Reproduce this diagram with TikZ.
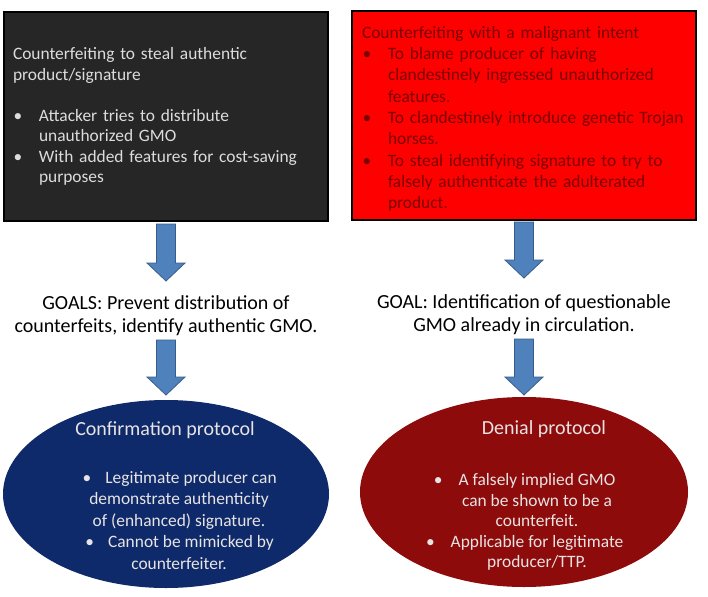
\documentclass[tikz,border=0pt]{standalone}
\usepackage{fontspec}
\setmainfont{Carlito}
\usetikzlibrary{shapes.geometric}
\definecolor{boxgray}{HTML}{262626}
\definecolor{boxtext}{HTML}{DCDCDC}
\definecolor{redfill}{HTML}{FF0000}
\definecolor{redtext}{HTML}{7A0000}
\definecolor{arrowfill}{HTML}{4F81BD}
\definecolor{arrowline}{HTML}{385D8A}
\definecolor{navy}{HTML}{0E2A6A}
\definecolor{darkred}{HTML}{8E0B0B}
\definecolor{elltext}{HTML}{E8E4E4}
\newcommand{\bulA}{\makebox[26pt][l]{\hspace{0.5pt}•}}
\newcommand{\indA}{\hspace*{26pt}}
\newcommand{\bulL}{\hspace*{24pt}\llap{•\hspace{14pt}}}
\newcommand{\bulR}{\llap{•\hspace{16pt}}}
\begin{document}
\begin{tikzpicture}[x=1pt,y=-1pt,
  topbox/.style={draw=black, line width=1.2pt, rectangle, minimum width=324pt,
     inner xsep=9pt, inner ysep=0pt, align=left, anchor=center},
  boxfont/.style={font=\fontsize{17.4}{20.5}\selectfont},
  goalfont/.style={font=\fontsize{20}{23}\selectfont, align=center, inner sep=0pt},
  ellbox/.style={ellipse, inner sep=0pt},
  titlefont/.style={font=\fontsize{20}{22}\selectfont, text=elltext, inner sep=0pt},
  bodyfont/.style={font=\fontsize{17.4}{21}\selectfont, text=elltext, align=center, inner sep=0pt},
  blockarrow/.style={fill=arrowfill, draw=arrowline, line width=0.8pt, line join=miter},
  pics/downarrow/.style={code={
    \path[blockarrow] (-9.5,0) -- (-9.5,#1-18) -- (-19,#1-18) -- (0,#1)
      -- (19,#1-18) -- (9.5,#1-18) -- (9.5,0) -- cycle;}}
]
\useasboundingbox[fill=white] (0,0) rectangle (708,596);

% top boxes
\node[topbox, boxfont, fill=boxgray, text=boxtext, minimum height=209pt,
      text width=306pt] (lbox) at (166,116.5) {%
Counterfeiting to steal authentic\\
product/signature\\[20.5pt]
\bulA Attacker tries to distribute\\
\indA unauthorized GMO\\
\bulA With added features for cost-saving\\
\indA purposes};

\node[topbox, fill=redfill, text=redtext, minimum height=209pt,
      minimum width=344pt, inner xsep=10pt, text width=324pt,
      font=\fontsize{17.4}{21.3}\selectfont] (rbox) at (524,115.5) {%
\rule{0pt}{19pt}Counterfeiting with a malignant intent\\
\bulA To blame producer of having\\
\indA clandestinely ingressed unauthorized\\
\indA features.\\
\bulA To clandestinely introduce genetic Trojan\\
\indA horses.\\
\bulA To steal identifying signature to try to\\
\indA falsely authenticate the adulterated\\
\indA product.};

% goals
\node[goalfont] (lgoal) at (166,316) {GOALS: Prevent distribution of\\counterfeits, identify authentic GMO.};
\node[goalfont] (rgoal) at (524,314.5) {GOAL: Identification of questionable\\GMO already in circulation.};

% ellipses
\node[ellbox, fill=navy, minimum width=326pt, minimum height=188pt] (lell) at (166,494) {};
\node[ellbox, fill=darkred, minimum width=328pt, minimum height=190pt] (rell) at (524,492) {};

\node[titlefont] (ltitle) at (165,430) {Confirmation protocol};
\node[titlefont] (rtitle) at (544,429) {Denial protocol};

\node[bodyfont, font=\fontsize{17.4}{21.5}\selectfont] (lbody) at (179,520.5) {%
\bulL Legitimate producer can\\
demonstrate authenticity\\
of (enhanced) signature.\\
\bulL Cannot be mimicked by\\
counterfeiter.};
\node[bodyfont, font=\fontsize{17.4}{20.6}\selectfont] (rbody) at (537,522) {%
\bulR A falsely implied GMO\\
can be shown to be a\\
counterfeit.\\
\bulR Applicable for legitimate\\
producer/TTP.};

% block arrows
\pic (a1) at (166,224) {downarrow=57};
\pic (a2) at (166,340) {downarrow=55};
\pic (a3) at (524,222) {downarrow=56};
\pic (a4) at (524,339) {downarrow=56};
\end{tikzpicture}
\end{document}
